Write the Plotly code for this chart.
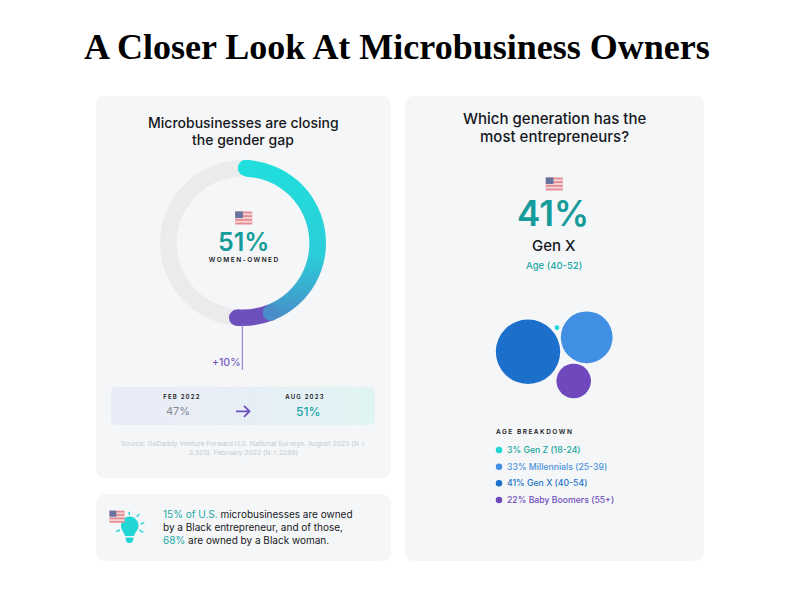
import math
import plotly.graph_objects as go

# ring values as drawn, percent of the circle
ring_labels = ['Feb 2022', 'Gain', 'Rest']
ring_values = [43.3, 7.3, 49.4]

generations = ['Gen Z', 'Millennials', 'Gen X', 'Baby Boomers']
generation_share = [3, 33, 41, 22]
age_ranges = ['18-24', '25-39', '40-54', '55+']

TEAL = '#159c9a'
DARK = '#15181c'
PANEL = '#f5f6f8'
PURPLE = '#6e50bd'
FONT = 'Inter'

# styling and layout only, in page pixels
bubble_colors = ['#22d6d6', '#408fe3', '#1c70cc', '#6f48bd']
text_colors = ['#17a79f', '#4a92dc', '#2274c4', '#6f4cb8']
bubble_x = [557, 586.7, 528, 573.7]
bubble_y = [327.7, 337.3, 351.7, 381]
legend_y = [450, 466.7, 483.3, 500]
px_per_point = 1.57

RING_CX, RING_CY, RING_R = 243, 243, 83
RING_START = 2.3
ring_mid = 75
cap_r = 8.2

fig = go.Figure()
shapes = []
notes = []


def text(x, y, s, size, color=DARK, anchor='center', weight=400, family=FONT):
    # annotations sit about 2px inside their anchor when left aligned
    if anchor == 'left':
        x -= 2
    notes.append(dict(x=x, y=y, xref='x', yref='y', text=s, showarrow=False, xanchor=anchor,
                      yanchor='middle', align='left' if anchor == 'left' else 'center',
                      font=dict(size=size, color=color, family=family, weight=weight)))


def panel(x0, y0, x1, y1, r=10, color=PANEL):
    p = (f'M{x0+r},{y0} L{x1-r},{y0} Q{x1},{y0} {x1},{y0+r} L{x1},{y1-r} Q{x1},{y1} {x1-r},{y1} '
         f'L{x0+r},{y1} Q{x0},{y1} {x0},{y1-r} L{x0},{y0+r} Q{x0},{y0} {x0+r},{y0} Z')
    shapes.append(dict(type='path', path=p, fillcolor=color, line_width=0, layer='below', xref='x', yref='y'))


def flag(cx, cy, w=17, h=13):
    x0, y0 = cx - w / 2, cy - h / 2
    shapes.append(dict(type='rect', x0=x0, x1=x0 + w, y0=y0, y1=y0 + h, fillcolor='#e58c93', line_width=0))
    for i in range(1, 7, 2):
        sy = y0 + h * i / 7
        shapes.append(dict(type='rect', x0=x0, x1=x0 + w, y0=sy, y1=sy + h / 7, fillcolor='#f3d5d8', line_width=0))
    shapes.append(dict(type='rect', x0=x0, x1=x0 + w * 0.45, y0=y0, y1=y0 + h * 0.5, fillcolor='#66739f', line_width=0))


def ring_point(pct):
    a = math.radians(RING_START + pct * 3.6)
    return RING_CX + ring_mid * math.sin(a), RING_CY - ring_mid * math.cos(a)


def cap(pct, color):
    x, y = ring_point(pct)
    shapes.append(dict(type='circle', x0=x - cap_r, x1=x + cap_r, y0=y - cap_r, y1=y + cap_r,
                       fillcolor=color, line_width=0))


panel(96, 96, 391, 478)
panel(96, 494, 391, 561)
panel(405, 96, 704, 561)

# band behind the feb / aug numbers, gradient set in post_script
panel(111, 387, 375, 425, r=6, color='#e9ecf7')

fig.add_trace(go.Pie(
    labels=ring_labels, values=ring_values, sort=False, direction='clockwise', rotation=RING_START,
    hole=0.8, textinfo='none', hoverinfo='skip', showlegend=False,
    marker=dict(colors=['#2bcfd8', PURPLE, '#e9ebed'], line=dict(width=0)),
    domain=dict(x=[(RING_CX - RING_R) / 800, (RING_CX + RING_R) / 800],
                y=[1 - (RING_CY + RING_R) / 600, 1 - (RING_CY - RING_R) / 600]),
))

# round ends of the arc
cap(0, '#20dfdd')
cap(ring_values[0] + ring_values[1], PURPLE)
cap(ring_values[0], '#4a8cc8')

fig.add_trace(go.Scatter(
    x=bubble_x, y=bubble_y, mode='markers', hoverinfo='skip', showlegend=False,
    marker=dict(size=[v * px_per_point for v in generation_share], sizemode='diameter',
                color=bubble_colors, line_width=0, opacity=1),
))

fig.add_trace(go.Scatter(
    x=[499] * 4, y=legend_y, mode='markers', hoverinfo='skip', showlegend=False,
    marker=dict(size=6.5, color=bubble_colors, line_width=0),
))

for g, v, a, c, y in zip(generations, generation_share, age_ranges, text_colors, legend_y):
    text(506.7, y, f'{v}% {g} ({a})', 8.7, c, 'left', 500)

text(397, 47, 'A Closer Look At Microbusiness Owners', 36, '#000000', weight=700, family='Liberation Serif')

text(243, 122, 'Microbusinesses are closing', 14, weight=500)
text(243, 139, 'the gender gap', 14, weight=500)
flag(243.7, 218)
text(243, 241.7, '51%', 25, TEAL, weight=600)
text(244, 259.7, 'WOMEN-OWNED', 6.5, DARK, weight=600)

shapes.append(dict(type='line', x0=242.3, x1=242.3, y0=324, y1=370, line=dict(color='#8a70c8', width=1)))
text(226.7, 362.7, '+10%', 10.5, '#7a5cc0', weight=500)

text(182, 396.7, 'FEB 2022', 6, DARK, weight=600)
text(177.7, 410.7, '47%', 11, '#858a90')
text(304.7, 396.7, 'AUG 2023', 6, DARK, weight=600)
text(308, 411, '51%', 12, '#1ba8a5', weight=500)
shapes.append(dict(type='path', path='M236,411.3 L249.5,411.3 M244,405.8 L249.5,411.3 L244,416.8',
                   line=dict(color=PURPLE, width=1.8)))

text(243, 443.7, 'Source: GoDaddy Venture Forward U.S. National Surveys. August 2023 (N =', 6.8, '#c3cbd0')
text(243, 452.3, '3,525). February 2022 (N = 2289)', 6.8, '#c3cbd0')

# lightbulb
BULB = '#22d6d6'
shapes.append(dict(type='path', fillcolor=BULB, line_width=0,
                   path='M129.5,516.5 C135,516.5 138.5,521 138.5,526 C138.5,530 135,532 134,536 L125,536 '
                        'C124,532 121,530 121,526 C121,521 124,516.5 129.5,516.5 Z'))
shapes.append(dict(type='path', fillcolor=BULB, line_width=0,
                   path='M125.5,537.5 L133.5,537.5 L133,541 L131,543 L128,543 L126,541 Z'))
for ray in [(129.3, 511.7, 129.3, 515), (139.3, 514, 136.7, 516.7), (144.3, 522.7, 140.7, 524),
            (143.3, 532.3, 139.3, 530), (116, 531.7, 120, 530)]:
    shapes.append(dict(type='line', x0=ray[0], y0=ray[1], x1=ray[2], y1=ray[3],
                       line=dict(color=BULB, width=1.4)))
flag(117, 516.7, 15, 12)

teal_span = '<span style="color:#1ba8a5">%s</span>'
text(162.7, 514, teal_span % '15% of U.S.' + ' microbusinesses are owned', 10, anchor='left')
text(162.7, 527, 'by a Black entrepreneur, and of those,', 10, anchor='left')
text(162.7, 540, teal_span % '68%' + ' are owned by a Black woman.', 10, anchor='left')

text(554.3, 118.3, 'Which generation has the', 15, weight=500)
text(554.3, 136, 'most entrepreneurs?', 15, weight=500)
flag(554.3, 184)
text(553.3, 212.7, '41%', 35, TEAL, weight=600)
text(554.3, 245, 'Gen X', 15, weight=500)
text(554.3, 265.7, 'Age (40-52)', 9.5, '#1ba8a5', weight=500)
text(496, 432, 'AGE BREAKDOWN', 6.5, DARK, 'left', 600)

fig.update_layout(
    width=800, height=600, margin=dict(l=0, r=0, t=0, b=0), showlegend=False,
    paper_bgcolor='#ffffff', plot_bgcolor='#ffffff', shapes=shapes, annotations=notes,
    xaxis=dict(range=[0, 800], visible=False, fixedrange=True),
    yaxis=dict(range=[600, 0], visible=False, fixedrange=True),
)

# plotly has no gradients on pie slices or shapes and no letter spacing, so patch the svg
post = """
document.body.style.margin = '0';
var svg = document.querySelector('.main-svg');
var ns = 'http://www.w3.org/2000/svg';
var defs = document.createElementNS(ns, 'defs');
function grad(id, x2, y2, stops) {
  var g = document.createElementNS(ns, 'linearGradient');
  g.setAttribute('id', id);
  g.setAttribute('x1', '0'); g.setAttribute('y1', '0');
  g.setAttribute('x2', x2); g.setAttribute('y2', y2);
  stops.forEach(function(s) {
    var st = document.createElementNS(ns, 'stop');
    st.setAttribute('offset', s[0]); st.setAttribute('stop-color', s[1]);
    g.appendChild(st);
  });
  defs.appendChild(g);
}
grad('arcfill', '0', '1', [[0, '#20dfdd'], [0.6, '#2bcdd8'], [1, '#4a8cc8']]);
grad('bandfill', '1', '0', [[0, '#e9ecf7'], [0.45, '#e8eef6'], [1, '#e0f4f3']]);
svg.insertBefore(defs, svg.firstChild);
document.querySelectorAll('.pielayer path.surface')[0].style.fill = 'url(#arcfill)';
document.querySelectorAll('.shapelayer path').forEach(function(p) {
  if (p.style.fill === 'rgb(233, 236, 247)') p.style.fill = 'url(#bandfill)';
});
document.querySelectorAll('.annotation-text').forEach(function(t) {
  var s = t.textContent;
  if (s === 'WOMEN-OWNED' || s === 'AGE BREAKDOWN') t.style.letterSpacing = '1.5px';
  if (s === 'FEB 2022' || s === 'AUG 2023') t.style.letterSpacing = '1.2px';
});
"""

fig.write_html('out.html', post_script=post, config=dict(displayModeBar=False))
